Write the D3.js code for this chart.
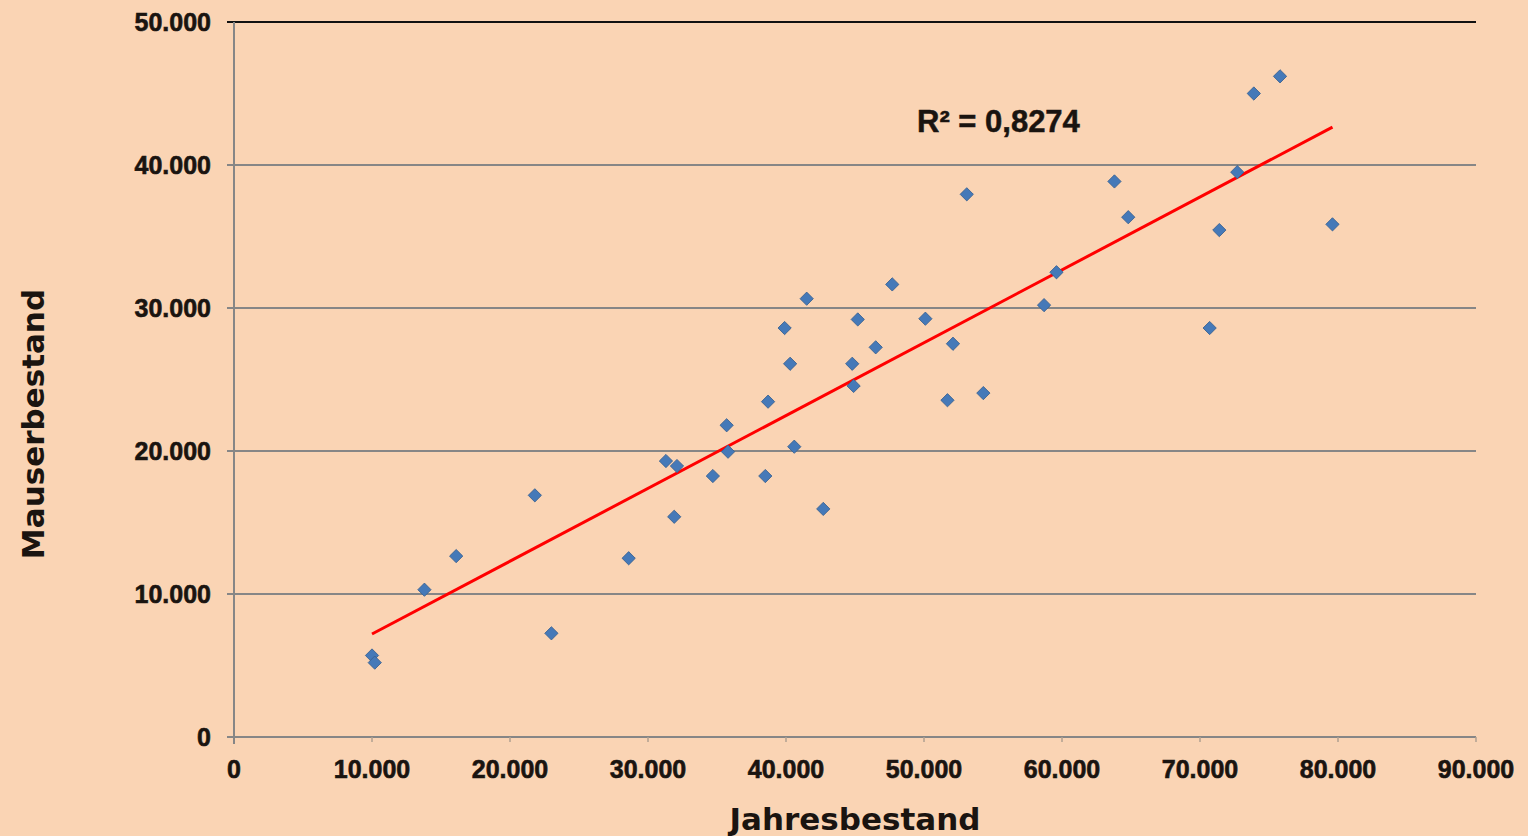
<!DOCTYPE html>
<html><head><meta charset="utf-8">
<script src="https://cdn.jsdelivr.net/npm/d3@7"></script>
<style>
html,body{margin:0;padding:0;background:#FAD4B4;}
svg{display:block;}
</style></head>
<body>
<svg id="chart" width="1528" height="836"></svg>
<script>
const jahresbestand = [10000,10200,13800,16100,21800,23000,28600,31300,32100,31900,34700,35700,35800,38500,38700,39900,40300,40600,41500,42700,44800,44900,45200,46500,47700,50100,51700,52100,53100,54300,58700,59600,63800,64800,70700,71400,72700,73900,75800,79600];
const mauserbestand = [5700,5200,10300,12650,16900,7250,12500,19300,18950,15400,18250,21800,19950,18250,23450,28600,26100,20300,30650,15950,26100,24550,29200,27250,31650,29250,23550,27500,37950,24050,30200,32500,38850,36350,28600,35450,39500,45000,46200,35850];
const trendX = [10000, 79600];
const trendY = [7200, 42650];
const xTicks = [0,10000,20000,30000,40000,50000,60000,70000,80000,90000];
const yTicks = [0,10000,20000,30000,40000,50000];
const rSquaredLabel = "R² = 0,8274";
const xTitle = "Jahresbestand";
const yTitle = "Mauserbestand";

const svg = d3.select("#chart");
const W = 1528, H = 836;
const L = 234, R = 1476, T = 22, B = 737;
const x = d3.scaleLinear().domain([0, 90000]).range([L, R]);
const y = d3.scaleLinear().domain([0, 50000]).range([B, T]);
const fmt = v => v === 0 ? "0" : d3.format(",")(v).replace(/,/g, ".");
const ink = "#1a1410";

svg.append("rect").attr("width", W).attr("height", H).attr("fill", "#FAD4B4");

// gridlines with outside tick
svg.append("g").selectAll("line").data(yTicks).join("line")
  .attr("x1", L - 7).attr("x2", R)
  .attr("y1", d => y(d)).attr("y2", d => y(d))
  .attr("stroke", d => d === 50000 ? "#111" : "#868686")
  .attr("stroke-width", 2);

// y axis line
svg.append("line").attr("x1", L).attr("x2", L).attr("y1", T).attr("y2", B + 7)
  .attr("stroke", "#868686").attr("stroke-width", 2);

// x axis ticks
svg.append("g").selectAll("line").data(xTicks.slice(1)).join("line")
  .attr("x1", d => x(d)).attr("x2", d => x(d)).attr("y1", B).attr("y2", B + 5)
  .attr("stroke", "#b0a090").attr("stroke-width", 1.5);

const label = sel => sel
  .attr("font-family", "Liberation Sans, Arial, sans-serif")
  .attr("font-weight", "bold").attr("font-size", 25)
  .attr("fill", ink).attr("stroke", ink).attr("stroke-width", 0.6);

// y tick labels
svg.append("g").selectAll("text").data(yTicks).join("text")
  .attr("x", 211).attr("y", d => y(d) + 9)
  .attr("text-anchor", "end")
  .call(label)
  .text(fmt);

// x tick labels
svg.append("g").selectAll("text").data(xTicks).join("text")
  .attr("x", d => x(d)).attr("y", 778)
  .attr("text-anchor", "middle")
  .call(label)
  .text(fmt);

// trendline
svg.append("line")
  .attr("x1", x(trendX[0])).attr("y1", y(trendY[0]))
  .attr("x2", x(trendX[1])).attr("y2", y(trendY[1]))
  .attr("stroke", "#FF0000").attr("stroke-width", 3);

// points (diamonds)
const pts = jahresbestand.map((v, i) => [v, mauserbestand[i]]);
const sym = d3.symbol().type(d3.symbolSquare).size(88);
svg.append("g").selectAll("path").data(pts).join("path")
  .attr("d", sym)
  .attr("transform", d => `translate(${x(d[0])},${y(d[1])}) rotate(45)`)
  .attr("fill", "#4579B8")
  .attr("stroke", "#38608f").attr("stroke-width", 0.8);

// R² label
svg.append("text").attr("x", 917).attr("y", 132)
  .attr("font-family", "Liberation Sans, Arial, sans-serif")
  .attr("font-weight", "bold").attr("font-size", 31)
  .attr("fill", ink).attr("stroke", ink).attr("stroke-width", 0.5)
  .text(rSquaredLabel);

// axis titles
svg.append("text").attr("x", 855).attr("y", 830)
  .attr("text-anchor", "middle")
  .attr("font-family", "DejaVu Sans, Verdana, sans-serif")
  .attr("font-weight", "bold").attr("font-size", 31)
  .attr("fill", ink)
  .text(xTitle);

svg.append("text")
  .attr("transform", "translate(44,424) rotate(-90)")
  .attr("text-anchor", "middle")
  .attr("font-family", "DejaVu Sans, Verdana, sans-serif")
  .attr("font-weight", "bold").attr("font-size", 31)
  .attr("fill", ink)
  .text(yTitle);
</script>
</body></html>
